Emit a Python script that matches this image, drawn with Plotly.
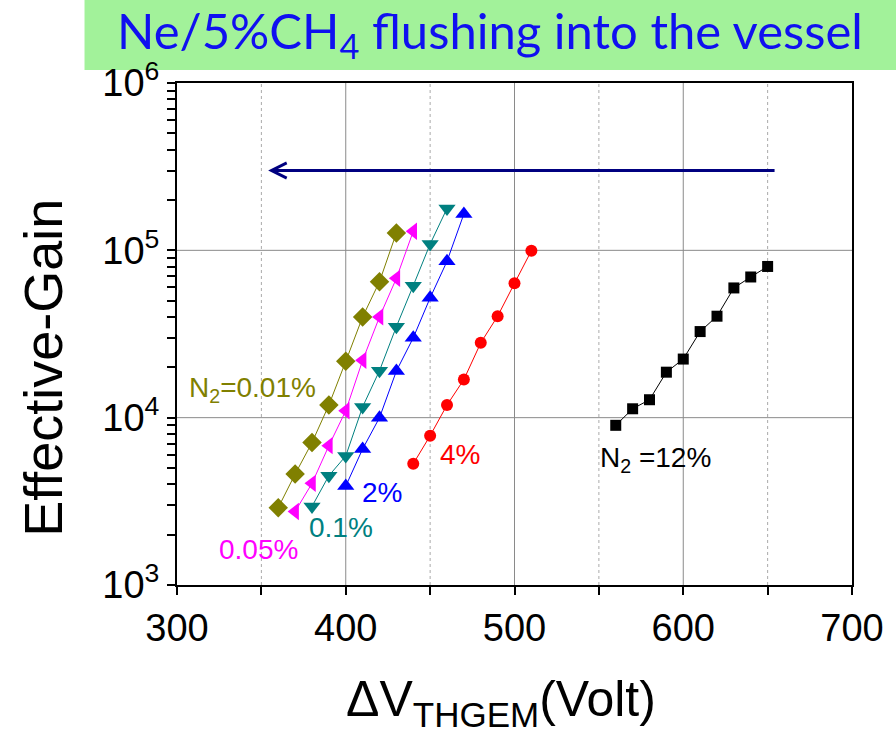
import plotly.graph_objects as go
import math

# ---- data ----
v_001 = [360, 370, 380, 390, 400, 410, 420, 430]
g_001 = [2900, 4600, 7100, 11900, 21700, 40000, 65000, 127000]

v_005 = [370, 380, 390, 400, 410, 420, 430, 440]
g_005 = [2750, 4050, 6800, 11000, 22000, 40000, 68000, 130000]

v_01 = [380, 390, 400, 410, 420, 430, 440, 450, 460]
g_01 = [2950, 4500, 5900, 11600, 19100, 35000, 61500, 109000, 178000]

v_2 = [400, 410, 420, 430, 440, 450, 460, 470]
g_2 = [3900, 6500, 10000, 19000, 30000, 52000, 86000, 165000]

v_4 = [440, 450, 460, 470, 480, 490, 500, 510]
g_4 = [5300, 7800, 11900, 16900, 28000, 40400, 63500, 99500]

v_12 = [560, 570, 580, 590, 600, 610, 620, 630, 640, 650]
g_12 = [9000, 11300, 12800, 18700, 22400, 32700, 40400, 59600, 69300, 80100]

x_major = [300, 400, 500, 600, 700]
x_minor = [350, 450, 550, 650]
y_major_exp = [3, 4, 5, 6]
y_minor = [m * 10 ** d for d in (3, 4, 5) for m in range(2, 10)]

arrow_from = (655, 3e5)
arrow_to = (354, 3e5)

FONT = "Liberation Sans, Arial, sans-serif"

series = [
    (v_001, g_001, "#808000", "diamond", 15),
    (v_005, g_005, "#FF00FF", "triangle-left", 15),
    (v_01, g_01, "#008080", "triangle-down", 15),
    (v_2, g_2, "#0000FF", "triangle-up", 15),
    (v_4, g_4, "#FF0000", "circle", 12),
    (v_12, g_12, "#000000", "square", 11),
]

fig = go.Figure()
for xs, ys, col, sym, sz in series:
    fig.add_trace(go.Scatter(
        x=xs, y=ys, mode="lines+markers",
        line=dict(color=col, width=1),
        marker=dict(symbol=sym, size=sz, color=col, line=dict(width=0)),
        showlegend=False, cliponaxis=False,
    ))

labels = [
    ("N<sub>2</sub>=0.01%", "#808000", 306, 4.17),
    ("0.05%", "#FF00FF", 323.5, 3.215),
    ("0.1%", "#008080", 377, 3.346),
    ("2%", "#0000FF", 408.5, 3.555),
    ("4%", "#FF0000", 454.5, 3.782),
    ("N<sub>2</sub> =12%", "#000000", 549.5, 3.75),
]
annotations = []
for txt, col, x, y in labels:
    annotations.append(dict(
        text=txt, x=x, y=y, xref="x", yref="y", xanchor="left", yanchor="middle",
        showarrow=False, font=dict(family=FONT, size=28, color=col)))

# arrow
annotations.append(dict(
    x=arrow_to[0], y=math.log10(arrow_to[1]), ax=arrow_from[0], ay=math.log10(arrow_from[1]),
    xref="x", yref="y", axref="x", ayref="y", text="", showarrow=True,
    arrowhead=5, arrowsize=1, arrowwidth=3, arrowcolor="#000080"))

# axis titles
annotations.append(dict(
    text="Effective-Gain", x=-0.199, y=0.432, xref="paper", yref="paper",
    textangle=-90, showarrow=False, xanchor="center", yanchor="middle",
    font=dict(family=FONT, size=54, color="black")))
annotations.append(dict(
    text="ΔV<sub>THGEM</sub>(Volt)", x=0.48, y=-0.168, xref="paper", yref="paper",
    showarrow=False, xanchor="center", yanchor="top",
    font=dict(family=FONT, size=50, color="black")))

# banner title
annotations.append(dict(
    text="Ne/5%CH<sub>4</sub> flushing into the vessel", x=0.464, y=1.098,
    xref="paper", yref="paper", showarrow=False, xanchor="center", yanchor="middle",
    font=dict(family="Comic Sans MS, Lato, sans-serif", size=49, color="#1010F0")))

shapes = [dict(type="rect", xref="paper", yref="paper",
               x0=-0.137, x1=1.07, y0=1.026, y1=1.17,
               fillcolor="#A2F29A", line=dict(width=0), layer="below")]
# grid lines
for xv in x_major[1:-1]:
    shapes.append(dict(type="line", xref="x", yref="paper", x0=xv, x1=xv, y0=0, y1=1,
                       line=dict(color="#8a8a8a", width=1), layer="below"))
for xv in x_minor:
    shapes.append(dict(type="line", xref="x", yref="paper", x0=xv, x1=xv, y0=0, y1=1,
                       line=dict(color="#aaaaaa", width=1, dash="dot"), layer="below"))
for e in y_major_exp[1:-1]:
    shapes.append(dict(type="line", xref="paper", yref="y", x0=0, x1=1,
                       y0=10 ** e, y1=10 ** e,
                       line=dict(color="#8a8a8a", width=1), layer="below"))

fig.update_layout(
    width=896, height=734,
    margin=dict(l=177, r=44, t=83, b=149),
    paper_bgcolor="white", plot_bgcolor="white",
    annotations=annotations, shapes=shapes,
)

x_tickvals = sorted(x_major + x_minor)
x_ticktext = [str(v) if v in x_major else "" for v in x_tickvals]
fig.update_xaxes(
    range=[300, 700], tickmode="array", tickvals=x_tickvals, ticktext=x_ticktext,
    ticks="outside", ticklen=8, tickwidth=2,
    tickcolor="black", showline=True, linecolor="black", linewidth=2, mirror=True,
    showgrid=False, zeroline=False,
    tickfont=dict(family=FONT, size=38, color="black"),
)

y_tickvals = sorted([10 ** e for e in y_major_exp] + y_minor)
y_ticktext = ["10<sup>%d</sup>" % round(math.log10(v)) if abs(math.log10(v) - round(math.log10(v))) < 1e-9 else ""
              for v in y_tickvals]
fig.update_yaxes(
    type="log", range=[3, 6], tickmode="array", tickvals=y_tickvals, ticktext=y_ticktext,
    ticks="outside", ticklen=8, tickwidth=2, tickcolor="black",
    showline=True, linecolor="black", linewidth=2, mirror=True,
    showgrid=False, zeroline=False,
    tickfont=dict(family=FONT, size=38, color="black"),
)

fig.write_html("out.html")
